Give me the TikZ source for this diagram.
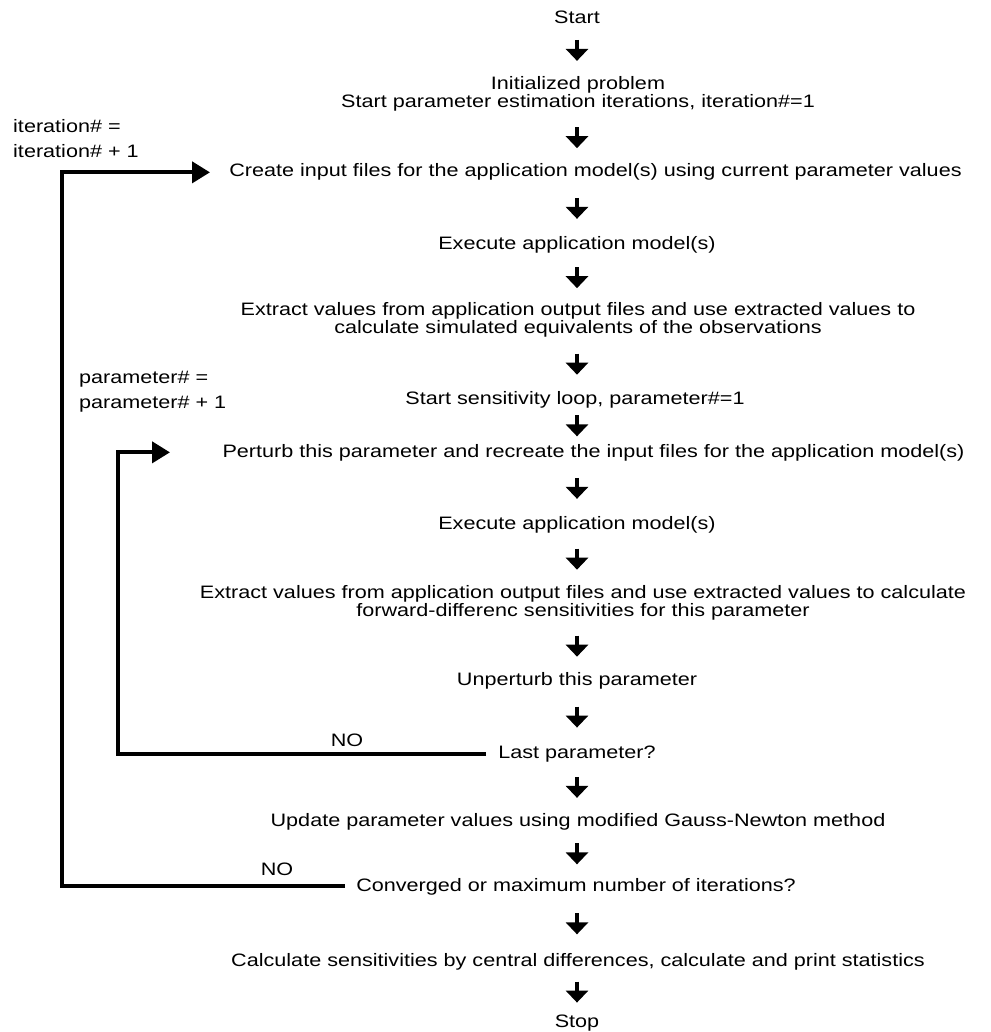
\documentclass[tikz,border=0pt]{standalone}
\usepackage{fontspec}
\setmainfont[FakeStretch=1.2]{Liberation Sans}
\usetikzlibrary{arrows.meta,calc}
\newcommand\flowarr[2]{%
  \path (axis |- #1.south) -- (axis |- #2.north) coordinate[midway] (m-#1);
  \draw[downarr] ([yshift=10.5pt]m-#1) -- ([yshift=-10.5pt]m-#1);}
\begin{document}
\begin{tikzpicture}[x=1pt,y=-1pt,
  txt/.style={inner sep=0pt, font=\fontsize{18pt}{18pt}\selectfont},
  blk/.style={txt, align=center},
  lbl/.style={inner sep=0pt, font=\fontsize{18pt}{25pt}\selectfont, align=left, anchor=north west},
  downarr/.style={line width=4.5pt, -{Triangle[length=12pt,width=22pt]}},
  loopline/.style={line width=4pt, -{Triangle[length=18pt,width=21pt]}},
]
\useasboundingbox (0,0) rectangle (990,1032);
\coordinate (axis) at (577,0);

\node[txt,anchor=base] (start) at (577,24) {Start};
\node[blk] (init) at (578,94) {Initialized problem\\Start parameter estimation iterations, iteration\#=1};
\node[txt,anchor=base] (create) at (595.5,177) {Create input files for the application model(s) using current parameter values};
\node[txt,anchor=base] (exec1) at (577,249) {Execute application model(s)};
\node[blk] (extract1) at (578,320) {Extract values from application output files and use extracted values to\\calculate simulated equivalents of the observations};
\node[txt,anchor=base] (startsens) at (575,404) {Start sensitivity loop, parameter\#=1};
\node[txt,anchor=base] (perturb) at (593.5,457) {Perturb this parameter and recreate the input files for the application model(s)};
\node[txt,anchor=base] (exec2) at (577,529) {Execute application model(s)};
\node[blk] (extract2) at (583,603) {Extract values from application output files and use extracted values to calculate\\forward-differenc sensitivities for this parameter};
\node[txt,anchor=base] (unpert) at (577,685) {Unperturb this parameter};
\node[txt,anchor=base] (last) at (577,758) {Last parameter?};
\node[txt,anchor=base] (update) at (578,826) {Update parameter values using modified Gauss-Newton method};
\node[txt,anchor=base] (conv) at (576,891) {Converged or maximum number of iterations?};
\node[txt,anchor=base] (calc) at (578,966) {Calculate sensitivities by central differences, calculate and print statistics};
\node[txt,anchor=base] (stop) at (577,1027) {Stop};

\node[lbl] (iterlbl) at (13,119) {iteration\# =\\iteration\# + 1};
\node[lbl] (paramlbl) at (79,371) {parameter\# =\\parameter\# + 1};
\node[txt] (no1) at (347,740) {NO};
\node[txt] (no2) at (277,869) {NO};

\flowarr{start}{init}
\flowarr{init}{create}
\flowarr{create}{exec1}
\flowarr{exec1}{extract1}
\flowarr{extract1}{startsens}
\flowarr{startsens}{perturb}
\flowarr{perturb}{exec2}
\flowarr{exec2}{extract2}
\flowarr{extract2}{unpert}
\flowarr{unpert}{last}
\flowarr{last}{update}
\flowarr{update}{conv}
\flowarr{conv}{calc}
\flowarr{calc}{stop}

\coordinate (oleft) at (62,0);
\coordinate (otip) at (210,0);
\coordinate (ostart) at (345,0);
\draw[loopline] (ostart |- conv.west) -- (oleft |- conv.west) -- (oleft |- create.west) -- (otip |- create.west);

\coordinate (ileft) at (118,0);
\coordinate (itip) at (170,0);
\coordinate (istart) at (486,0);
\draw[loopline] (istart |- last.west) -- (ileft |- last.west) -- (ileft |- perturb.west) -- (itip |- perturb.west);
\end{tikzpicture}
\end{document}
